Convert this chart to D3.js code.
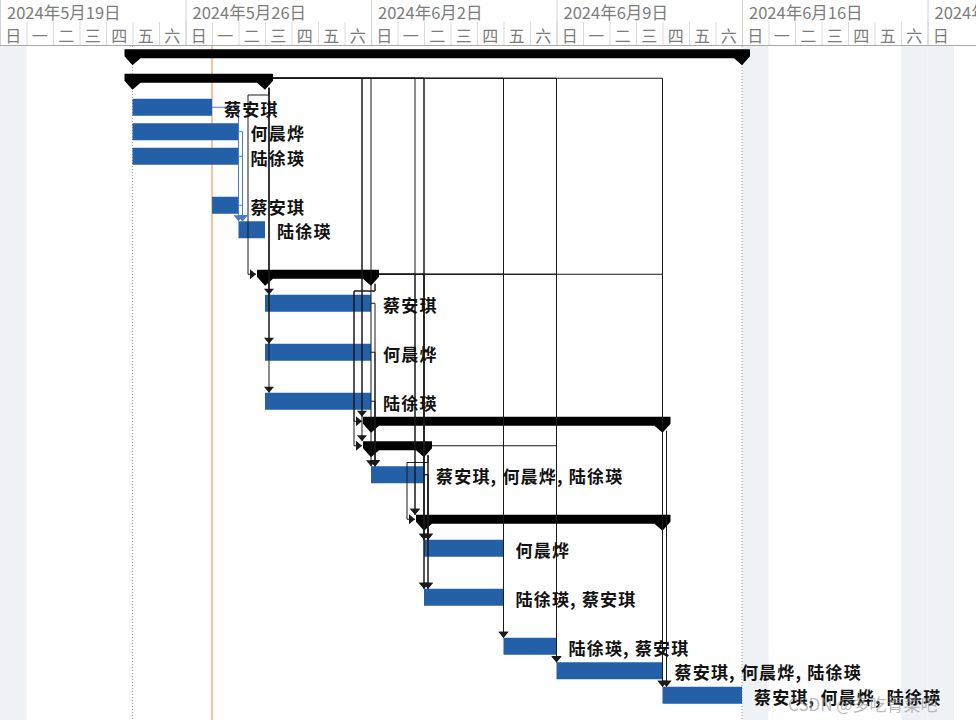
<!DOCTYPE html>
<html>
<head>
<meta charset="utf-8">
<script src="https://cdn.jsdelivr.net/npm/d3@7"></script>
<style>
  html, body { margin: 0; padding: 0; background: #fff; overflow: hidden; }
  svg { display: block; }
</style>
</head>
<body>
<figure id="gantt" style="margin:0"></figure>
<script>
// calendar
const dayNames = ["日", "一", "二", "三", "四", "五", "六"];
const nonWorkDays = ["2024-05-19", "2024-06-16", "2024-06-22", "2024-06-23"];
const projectStart = "2024-05-24";
const projectEnd = "2024-06-16";
const statusDate = "2024-05-27";

// one entry per gantt row ("" = empty row)
const rowKind = ["project", "summary", "task", "task", "task", "", "task", "task", "",
  "summary", "task", "", "task", "", "task", "summary", "summary", "task", "",
  "summary", "task", "", "task", "", "task", "task", "task"];
const rowStart = ["2024-05-24", "2024-05-24", "2024-05-24", "2024-05-24", "2024-05-24", null, "2024-05-27", "2024-05-28", null,
  "2024-05-29", "2024-05-29", null, "2024-05-29", null, "2024-05-29", "2024-06-02", "2024-06-02", "2024-06-02", null,
  "2024-06-04", "2024-06-04", null, "2024-06-04", null, "2024-06-07", "2024-06-09", "2024-06-13"];
const rowEnd = ["2024-06-16", "2024-05-29", "2024-05-27", "2024-05-28", "2024-05-28", null, "2024-05-28", "2024-05-29", null,
  "2024-06-02", "2024-06-02", null, "2024-06-02", null, "2024-06-02", "2024-06-13", "2024-06-04", "2024-06-04", null,
  "2024-06-13", "2024-06-07", null, "2024-06-07", null, "2024-06-09", "2024-06-13", "2024-06-16"];
const rowResources = ["", "", "蔡安琪", "何晨烨", "陆徐瑛", "", "蔡安琪", "陆徐瑛", "",
  "", "蔡安琪", "", "何晨烨", "", "陆徐瑛", "", "", "蔡安琪, 何晨烨, 陆徐瑛", "",
  "", "何晨烨", "", "陆徐瑛, 蔡安琪", "", "陆徐瑛, 蔡安琪", "蔡安琪, 何晨烨, 陆徐瑛", "蔡安琪, 何晨烨, 陆徐瑛"];

// finish-to-start links [predecessor row, successor row]
const selectedLinks = [[2, 7], [3, 7], [4, 7], [6, 7]];
const links = [[1, 9], [1, 10], [1, 12], [1, 14], [1, 15], [1, 16], [1, 17], [1, 19], [1, 20], [1, 22], [1, 24], [1, 25], [1, 26],
  [9, 15], [9, 16], [9, 19], [9, 20], [9, 22], [9, 24], [9, 25], [9, 26],
  [10, 17], [12, 17], [14, 17],
  [16, 19], [16, 20], [16, 22], [16, 25],
  [17, 20], [17, 22],
  [15, 26], [19, 26]];

const width = 976, height = 720, headerH = 46, rowH = 24.5;
const parse = d3.utcParse("%Y-%m-%d");
const weekFmt = d3.utcFormat("%Y年%-m月%-d日");

const x = d3.scaleUtc()
  .domain([parse("2024-05-19"), parse("2024-06-24")])
  .range([0, 954]);
const y = d3.scaleBand()
  .domain(d3.range(rowKind.length))
  .range([headerH, headerH + rowKind.length * rowH]);
const yc = i => y(i) + y.bandwidth() / 2;

const svg = d3.select("#gantt").append("svg")
  .attr("width", width)
  .attr("height", height);

// non working days
svg.append("g").selectAll("rect")
  .data(nonWorkDays.map(parse))
  .enter().append("rect")
  .attr("x", d => x(d))
  .attr("y", headerH)
  .attr("width", d => x(d3.utcDay.offset(d, 1)) - x(d))
  .attr("height", height - headerH)
  .attr("fill", "#eef1f6");

// project start / finish dotted lines
svg.append("g").selectAll("line")
  .data([projectStart, projectEnd].map(parse))
  .enter().append("line")
  .attr("x1", d => x(d)).attr("x2", d => x(d))
  .attr("y1", headerH).attr("y2", height)
  .attr("stroke", "#9a9a9a")
  .attr("stroke-dasharray", "1,2");

// status date
svg.append("line")
  .attr("x1", x(parse(statusDate))).attr("x2", x(parse(statusDate)))
  .attr("y1", headerH).attr("y2", height)
  .attr("stroke", "#f6c49a")
  .attr("stroke-width", 2);

const rows = d3.range(rowKind.length).filter(i => rowKind[i] !== "");

// task bars
svg.append("g").selectAll("rect")
  .data(rows.filter(i => rowKind[i] === "task"))
  .enter().append("rect")
  .attr("x", i => x(parse(rowStart[i])))
  .attr("y", i => yc(i) - 8.5)
  .attr("width", i => x(parse(rowEnd[i])) - x(parse(rowStart[i])))
  .attr("height", 17)
  .attr("fill", "#2360a8");

// summary bars
function summaryPath(x1, x2, c) {
  const t = c - 9, b = c, tip = c + 7;
  return `M${x1 - 8},${t}H${x2 + 8}V${b - 2}L${x2},${tip}L${x2 - 8},${b}H${x1 + 8}L${x1},${tip}L${x1 - 8},${b - 2}Z`;
}
svg.append("g").selectAll("path")
  .data(rows.filter(i => rowKind[i] !== "task"))
  .enter().append("path")
  .attr("d", i => summaryPath(x(parse(rowStart[i])), x(parse(rowEnd[i])), yc(i)))
  .attr("fill", "#000");

// link routing, roughly the way Project draws it
function route(p, s) {
  const pTask = rowKind[p] === "task", sTask = rowKind[s] === "task";
  const xe = x(parse(rowEnd[p])), xs = x(parse(rowStart[s]));
  const py = pTask ? yc(p) : yc(p) - 4.5;
  const sTop = sTask ? yc(s) - 8.5 : yc(s) - 9;
  const sy = sTask ? yc(s) : yc(s) - 4.5;
  const downX = sTask ? xs : xs - 9;
  const exitX = pTask ? xe : xe + 8;
  if (downX >= exitX + 3) {
    return { d: `M${exitX},${py}H${downX}V${sTop}`, dir: "down", ax: downX, ay: sTop };
  }
  if (downX >= xe - 1) {
    const vx = xe + 4;
    if (pTask) return { d: `M${xe},${py}H${vx}V${sTop}`, dir: "down", ax: vx, ay: sTop };
    return { d: `M${vx},${yc(p) + 5}V${sTop}`, dir: "down", ax: vx, ay: sTop };
  }
  const bottom = yc(p) + rowH / 2;
  const start = pTask ? `M${xe},${py}H${xe + 4}` : `M${xe + 4},${yc(p) + 5}`;
  return { d: `${start}V${bottom}H${downX - 8}V${sy}H${downX}`, dir: "right", ax: downX, ay: sy };
}
function arrowPath(r) {
  if (r.dir === "down") return `M${r.ax - 5},${r.ay - 6}H${r.ax + 5}L${r.ax},${r.ay}Z`;
  return `M${r.ax - 6},${r.ay - 5}V${r.ay + 5}L${r.ax},${r.ay}Z`;
}
function drawLinks(list, color) {
  const g = svg.append("g");
  const routes = list.map(l => route(l[0], l[1]));
  g.selectAll("path.link").data(routes).enter().append("path")
    .attr("class", "link")
    .attr("d", r => r.d)
    .attr("fill", "none")
    .attr("stroke", color)
    .attr("stroke-width", 1);
  g.selectAll("path.arrow").data(routes).enter().append("path")
    .attr("class", "arrow")
    .attr("d", arrowPath)
    .attr("fill", color);
}
drawLinks(links, "#1a1a1a");
drawLinks(selectedLinks, "#4a7cc4");

// resource names
svg.append("g").selectAll("text")
  .data(rows.filter(i => rowResources[i] !== ""))
  .enter().append("text")
  .attr("x", i => x(parse(rowEnd[i])) + 12)
  .attr("y", i => yc(i) + 1)
  .attr("dominant-baseline", "central")
  .attr("font-family", "'Noto Sans CJK SC', sans-serif")
  .attr("font-size", 17)
  .attr("font-weight", 600)
  .attr("letter-spacing", 1.2)
  .attr("fill", "#111")
  .text(i => rowResources[i]);

// timescale header
const header = svg.append("g");
header.append("rect")
  .attr("width", width).attr("height", headerH)
  .attr("fill", "#fff");
const weeks = d3.utcSunday.range(x.domain()[0], x.domain()[1]);
const days = d3.utcDay.range(x.domain()[0], x.domain()[1]);

header.selectAll("line.day").data(days).enter().append("line")
  .attr("class", "day")
  .attr("x1", d => x(d) + 0.5).attr("x2", d => x(d) + 0.5)
  .attr("y1", 22).attr("y2", headerH)
  .attr("stroke", "#dadada");
header.selectAll("line.week").data(weeks).enter().append("line")
  .attr("class", "week")
  .attr("x1", d => x(d) + 0.5).attr("x2", d => x(d) + 0.5)
  .attr("y1", 0).attr("y2", headerH)
  .attr("stroke", "#d2d2d2");
header.selectAll("text.week").data(weeks).enter().append("text")
  .attr("class", "week")
  .attr("x", d => x(d) + 7)
  .attr("y", 11.5)
  .attr("dominant-baseline", "central")
  .attr("font-family", "'Noto Sans CJK SC', sans-serif")
  .attr("font-size", 16.5)
  .attr("fill", "#7c7c7c")
  .text(d => weekFmt(d));
header.selectAll("text.day").data(days).enter().append("text")
  .attr("class", "day")
  .attr("x", d => x(d) + (x(d3.utcDay.offset(d, 1)) - x(d)) / 2)
  .attr("y", 34.5)
  .attr("text-anchor", "middle")
  .attr("dominant-baseline", "central")
  .attr("font-family", "'Noto Sans CJK SC', sans-serif")
  .attr("font-size", 16)
  .attr("fill", "#7c7c7c")
  .text(d => dayNames[d.getUTCDay()]);
header.append("line")
  .attr("x1", 0).attr("x2", width)
  .attr("y1", headerH - 0.5).attr("y2", headerH - 0.5)
  .attr("stroke", "#a8a8a8");

// watermark
svg.append("text")
  .attr("x", 788).attr("y", 703)
  .attr("dominant-baseline", "central")
  .attr("font-family", "'Noto Sans CJK SC', sans-serif")
  .attr("font-size", 17)
  .attr("fill", "rgba(140,140,140,0.6)")
  .text("CSDN @多吃青菜吧");
</script>
</body>
</html>
